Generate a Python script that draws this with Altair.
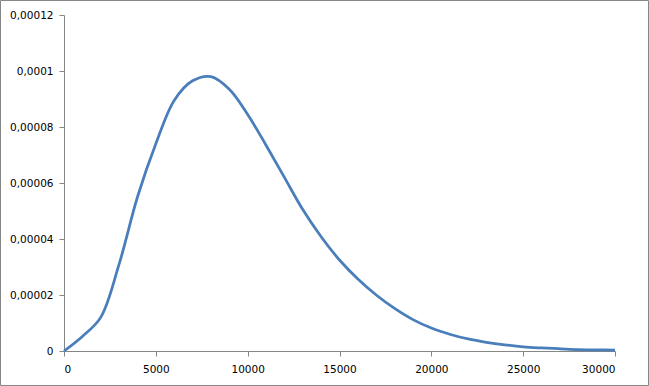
import altair as alt
import pandas as pd

x_vals = [0, 1000, 2000, 3000, 4000, 5000, 6000, 7000, 8000, 9000, 10000,
          11000, 12000, 13000, 14000, 15000, 16000, 17000, 18000, 19000, 20000,
          21000, 22000, 23000, 24000, 25000, 26000, 27000, 28000, 29000, 30000]
y_vals = [0, 5.2e-6, 1.2e-5, 3.1e-5, 5.5e-5, 7.4e-5, 8.95e-5, 9.65e-5, 9.8e-5, 9.35e-5, 8.45e-5,
          7.35e-5, 6.2e-5, 5.05e-5, 4.08e-5, 3.25e-5, 2.57e-5, 2.0e-5, 1.52e-5, 1.12e-5, 8.2e-6,
          6.0e-6, 4.3e-6, 3.1e-6, 2.2e-6, 1.5e-6, 1.1e-6, 8e-7, 5e-7, 4e-7, 3e-7]
x_ticks = [0, 5000, 10000, 15000, 20000, 25000, 30000]
y_ticks = [0, 0.00002, 0.00004, 0.00006, 0.00008, 0.0001, 0.00012]

df = pd.DataFrame({"x": x_vals, "y": y_vals})

W, H = 551, 336
FONT = "DejaVu Sans"
GRAY = "#868686"

line = alt.Chart(df).mark_line(
    color="#4a7ebb", strokeWidth=2.75, interpolate="catmull-rom"
).encode(
    x=alt.X("x:Q", scale=alt.Scale(domain=[0, 30000], nice=False),
            axis=alt.Axis(values=x_ticks, format="d", title=None, grid=False,
                          domainColor=GRAY, tickColor=GRAY, tickSize=5,
                          labelFont=FONT, labelFontSize=10.5, labelColor="#000000",
                          labelPadding=8)),
    y=alt.Y("y:Q", scale=alt.Scale(domain=[0, 0.00012], nice=False),
            axis=alt.Axis(values=y_ticks, title=None, grid=False,
                          labelExpr="replace(format(datum.value, '.5~f'), '.', ',')",
                          domainColor=GRAY, tickColor=GRAY, tickSize=5,
                          labelFont=FONT, labelFontSize=10.5, labelColor="#000000",
                          labelPadding=6)),
)

border = alt.Chart(pd.DataFrame({"a": [0]})).mark_rect(
    fill=None, stroke=GRAY, strokeWidth=1
).encode(
    x=alt.value(-63.5), x2=alt.value(W + 33.5),
    y=alt.value(-14.5), y2=alt.value(H + 34.5),
)

chart = alt.layer(border, line).properties(
    width=W, height=H,
    padding={"left": 64, "top": 15, "right": 34, "bottom": 35},
    autosize=alt.AutoSizeParams(type="none"),
    background="#ffffff",
).configure_view(stroke=None)

chart.save("out.html", embed_options={"renderer": "svg", "actions": False})
